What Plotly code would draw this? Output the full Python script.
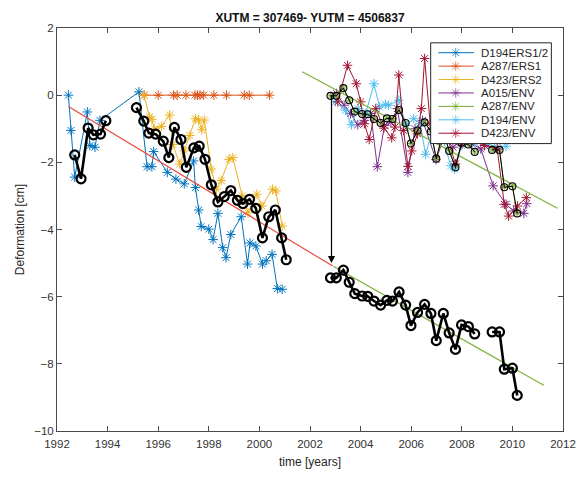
import plotly.graph_objects as go

# ---------------- data ----------------
# D194 ERS1/2 (blue)
d194ers_t = [1992.45, 1992.55, 1992.70, 1993.20, 1993.30, 1993.50, 1993.70, 1995.24, 1995.56, 1995.75,
             1995.82, 1996.36, 1996.70, 1997.03, 1997.40, 1997.47, 1997.60, 1997.70, 1998.00, 1998.17,
             1998.36, 1998.55, 1998.68, 1998.87, 1999.28, 1999.53, 1999.63, 1999.86, 2000.12, 2000.27,
             2000.50, 2000.71, 2000.90]
d194ers_v = [0.00, -1.05, -2.44, -0.50, -1.50, -1.55, -0.75, 0.10, -2.13, -2.13,
             -1.68, -2.30, -2.50, -2.64, -1.96, -2.75, -3.42, -3.91, -3.99, -4.30,
             -3.52, -4.54, -4.84, -4.15, -3.62, -5.03, -4.40, -4.49, -5.03, -4.93,
             -4.74, -5.76, -5.78]

# A287 ERS1 (orange)
a287ers_t = [1995.45, 1996.00, 1996.60, 1996.75, 1997.10, 1997.45, 1997.55, 1997.65, 1997.80,
             1998.20, 1998.70, 1999.40, 1999.60, 2000.40]
a287ers_v = [0.0] * 14

# D423 ERS2 (yellow)
d423ers_t = [1995.44, 1995.65, 1995.75, 1995.85, 1996.13, 1996.45, 1996.58, 1996.85, 1997.03, 1997.25,
             1997.47, 1997.60, 1997.72, 1997.82, 1998.10, 1998.30, 1998.49, 1998.80, 1998.95, 1999.32,
             1999.55, 1999.90, 2000.10, 2000.52, 2000.65, 2000.90]
d423ers_v = [0.00, -0.65, -0.72, -1.00, -0.93, -0.59, -1.47, -2.05, -1.66, -1.20,
             -0.70, -0.74, -1.03, -0.74, -2.20, -2.80, -2.54, -1.91, -1.86, -3.00,
             -3.50, -2.95, -3.30, -2.80, -2.85, -3.90]

# A015 ENV (purple)
a015env_t = [2003.05, 2003.35, 2003.60, 2003.89, 2004.15, 2004.40, 2004.66, 2004.95, 2005.20, 2005.45,
             2005.87, 2006.15, 2006.45, 2006.98, 2007.30, 2007.65, 2008.00, 2008.40, 2008.75, 2009.24,
             2009.75, 2010.05, 2010.45, 2010.57]
a015env_v = [0.05, -0.30, -0.55, -0.88, -0.75, -0.55, -2.13, -0.90, -0.80, -0.40,
             -2.30, -1.00, -0.75, -1.92, -1.25, -1.55, -1.35, -1.45, -1.60, -2.70,
             -3.25, -3.45, -3.52, -3.23]

# A287 ENV (green) - reference track (also the black circles)
a287env_t = [2002.81, 2003.04, 2003.32, 2003.55, 2003.77, 2004.06, 2004.28, 2004.53, 2004.79, 2005.04,
             2005.26, 2005.52, 2005.78, 2005.99, 2006.25, 2006.53, 2006.78, 2006.99, 2007.27, 2007.50,
             2007.75, 2007.99, 2008.26, 2008.51, None, 2009.20, 2009.49, 2009.68, 2010.00, 2010.19]
a287env_v = [-0.02, -0.02, 0.21, -0.15, -0.49, -0.56, -0.57, -0.71, -0.83, -0.69,
             -0.71, -0.44, -0.83, -1.44, -1.05, -0.81, -1.08, -1.89, -1.08, -1.66,
             -2.15, -1.42, -1.47, -1.69, None, -1.63, -1.63, -2.74, -2.71, -3.52]

# D194 ENV (light blue)
d194env_t = [2003.00, 2003.40, 2003.64, 2003.90, 2004.20, 2004.53, 2004.75, 2004.98, 2005.10, 2005.51,
             2005.80, 2006.10, 2006.35, 2006.57, 2006.85, 2007.20, 2007.57, 2007.71, 2008.00, 2008.50,
             2009.00, 2009.40, 2009.75]
d194env_v = [-0.20, -0.45, -0.88, -0.40, -0.55, 0.34, -0.35, -0.27, -0.30, -0.15,
             -0.90, -0.70, -0.85, -1.76, -1.00, -1.20, -2.10, -2.20, -1.50, -1.40,
             -1.45, -1.55, -1.52]

# D423 ENV (dark red)
d423env_t = [2003.10, 2003.48, 2003.83, 2004.00, 2004.15, 2004.34, 2004.60, 2004.92, 2005.23, 2005.36,
             2005.51, 2005.70, 2005.87, 2006.02, 2006.25, 2006.40, 2006.53, 2006.75, 2007.05, 2007.35,
             2007.75, 2008.00, 2008.35, 2008.90, 2009.40, 2009.68, 2009.85, 2010.20, 2010.55]
d423env_v = [-0.20, 0.89, 0.34, -0.20, -0.85, -1.32, -0.40, -0.98, -1.27, -0.95,
             0.60, -1.05, -2.12, -1.66, -1.15, -0.40, 1.09, -0.85, -1.25, -1.05,
             -2.05, -1.45, -1.30, -1.50, -1.60, -3.25, -3.60, -3.30, -3.05]

# combined ERS series (black, thick)
ers_comb_t = [1992.70, 1992.95, 1993.23, 1993.44, 1993.72, 1993.93, None,
              1995.14, 1995.43, 1995.63, 1995.90, 1996.20, 1996.42, 1996.64, 1996.90, 1997.11, 1997.41,
              1997.62, 1997.85, 1998.10, 1998.36, 1998.61, 1998.87, 1999.13, 1999.35, 1999.61, 1999.86,
              2000.12, 2000.37, 2000.63, 2000.88, 2001.06]
ers_comb_v = [-1.78, -2.49, -0.98, -1.18, -1.16, -0.76, None,
              -0.37, -0.77, -1.13, -1.16, -1.37, -1.86, -0.96, -1.32, -2.15, -1.57,
              -1.52, -1.91, -2.67, -3.18, -3.02, -2.84, -3.13, -3.23, -3.10, -3.37,
              -4.25, -3.62, -3.42, -4.25, -4.90]

# offset applied to the ENV series to join it to the ERS trend
env_offset = 5.42

# linear trends
trend_ers_t = [1992.45, 2002.90]
trend_ers_v = [-0.34, -5.09]
trend_env_t = [2001.69, 2011.78]
trend_env_v = [0.70, -3.37]
trend_env_shift_t = [2002.94, 2011.24]
trend_env_shift_v = [-5.10, -8.64]

# arrow (shift of ENV series)
arrow_t = 2002.85
arrow_from = 0.05
arrow_to = -5.0

series_names = ["D194ERS1/2", "A287/ERS1", "D423/ERS2", "A015/ENV", "A287/ENV", "D194/ENV", "D423/ENV"]
series_colors = ["#0072BD", "#D95319", "#EDB120", "#7E2F8E", "#77AC30", "#4DBEEE", "#A2142F"]
series_t = [d194ers_t, a287ers_t, d423ers_t, a015env_t, a287env_t, d194env_t, d423env_t]
series_v = [d194ers_v, a287ers_v, d423ers_v, a015env_v, a287env_v, d194env_v, d423env_v]

# ---------------- figure ----------------
fig = go.Figure()

for name, t, v, c in zip(series_names, series_t, series_v, series_colors):
    msize = 5 if name == "A287/ENV" else 8
    fig.add_trace(go.Scatter(
        x=t, y=v, name=name, mode="lines+markers", showlegend=False,
        line=dict(color=c, width=1),
        marker=dict(symbol="asterisk-open", size=msize, color=c, line=dict(color=c, width=1)),
    ))

# trends
fig.add_trace(go.Scatter(x=trend_ers_t, y=trend_ers_v, mode="lines", showlegend=False,
                         line=dict(color="#E8493A", width=1.2)))
fig.add_trace(go.Scatter(x=trend_env_t, y=trend_env_v, mode="lines", showlegend=False,
                         line=dict(color="#7DB03A", width=1.2)))
fig.add_trace(go.Scatter(x=trend_env_shift_t, y=trend_env_shift_v, mode="lines", showlegend=False,
                         line=dict(color="#7DB03A", width=1.2)))

# original ENV reference track (thin black circles)
fig.add_trace(go.Scatter(x=a287env_t, y=a287env_v, mode="lines+markers", showlegend=False,
                         line=dict(color="black", width=1),
                         marker=dict(symbol="circle-open", size=7, color="black", line=dict(width=1.1))))

# shifted ENV series (thick black)
env_shift_v = [None if v is None else round(v - env_offset, 2) for v in a287env_v]
for t, v in [(ers_comb_t, ers_comb_v), (a287env_t, env_shift_v)]:
    fig.add_trace(go.Scatter(x=t, y=v, mode="lines+markers", showlegend=False,
                             line=dict(color="black", width=2.6),
                             marker=dict(symbol="circle-open", size=9, color="black", line=dict(width=2.2))))

fig.add_annotation(x=arrow_t, y=arrow_to, ax=arrow_t, ay=arrow_from, xref="x", yref="y",
                   axref="x", ayref="y", text="", showarrow=True, arrowhead=2, arrowsize=1.2,
                   arrowwidth=1.2, arrowcolor="black")

# ---------------- legend (MATLAB style, drawn on an overlay 0-1 axis) ----------------
leg_x0, leg_x1, leg_y0, leg_y1 = 0.7385, 0.977, 0.7132, 0.9632
leg_row_top, leg_row_step = 0.9387, 0.0333
leg_line_x = [0.7538, 0.788, 0.8239]
leg_text_x = 0.834
fig.add_trace(go.Scatter(x=[leg_x0, leg_x1, leg_x1, leg_x0, leg_x0],
                         y=[leg_y0, leg_y0, leg_y1, leg_y1, leg_y0],
                         xaxis="x2", yaxis="y2", mode="lines", fill="toself", fillcolor="white",
                         line=dict(color="#262626", width=1), showlegend=False, hoverinfo="skip"))
for i, (name, c) in enumerate(zip(series_names, series_colors)):
    yy = leg_row_top - i * leg_row_step
    fig.add_trace(go.Scatter(x=leg_line_x, y=[yy] * 3, xaxis="x2", yaxis="y2", mode="lines+markers",
                             showlegend=False, hoverinfo="skip", line=dict(color=c, width=1),
                             marker=dict(symbol="asterisk-open", size=[0, 8, 0], color=c,
                                         line=dict(color=c, width=1))))
    fig.add_annotation(x=leg_text_x, y=yy, xref="x2", yref="y2", text=name, showarrow=False,
                       xanchor="left", yanchor="middle", font=dict(size=11.5, color="#262626"))

axis_common = dict(showline=True, linecolor="#4a4a4a", linewidth=1, mirror="ticks", ticks="inside",
                   ticklen=5, tickcolor="#4a4a4a", showgrid=False, zeroline=False,
                   tickfont=dict(size=11.5, color="#333333"))

fig.update_layout(
    width=580, height=470,
    margin=dict(l=42, r=14, t=20, b=42),
    paper_bgcolor="white", plot_bgcolor="white",
    font=dict(family="Liberation Sans, Arial, sans-serif", color="#262626"),
    showlegend=False,
    title=dict(text="<b>XUTM = 307469- YUTM = 4506837</b>", x=0.5, xref="paper",
               y=0.9787, yref="container", yanchor="middle", font=dict(size=12, color="#111111")),
    xaxis=dict(range=[1992, 2012], dtick=2, tick0=1992, ticklabelstandoff=2,
               title=dict(text="time [years]", font=dict(size=12), standoff=8), **axis_common),
    yaxis=dict(range=[-10, 2], dtick=2, tick0=-10,
               title=dict(text="Deformation [cm]", font=dict(size=12), standoff=6), **axis_common),
    xaxis2=dict(overlaying="x", range=[0, 1], visible=False, fixedrange=True),
    yaxis2=dict(overlaying="y", range=[0, 1], visible=False, fixedrange=True),
)

fig.write_html("out.html")
